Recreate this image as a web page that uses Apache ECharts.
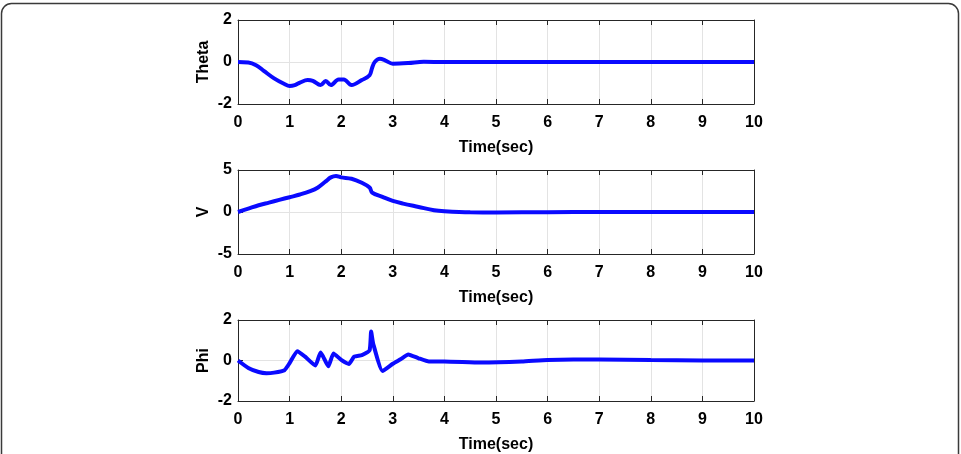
<!DOCTYPE html>
<html>
<head>
    <meta charset="utf-8">
    <script src="https://cdn.jsdelivr.net/npm/echarts@6/dist/echarts.min.js"></script>
</head>
<body style="margin:0; background:#fff">
    <div id="main" style="width:961px; height:454px"></div>
    <script type="text/javascript">
        // values
        var thetaTime = [0, 0.2, 0.35, 0.5, 0.7, 0.9, 1.0, 1.1, 1.2, 1.35, 1.45, 1.6, 1.7, 1.8, 1.95, 2.05, 2.2, 2.4, 2.55, 2.6, 2.65, 2.75, 2.85, 3.0, 3.3, 3.6, 4.0, 5, 6, 7, 8, 9, 10];
        var thetaVal = [0, -0.02, -0.15, -0.42, -0.78, -1.05, -1.14, -1.1, -0.98, -0.86, -0.9, -1.1, -0.9, -1.1, -0.83, -0.83, -1.1, -0.86, -0.63, -0.27, 0, 0.15, 0.08, -0.08, -0.05, 0.01, 0, 0, 0, 0, 0, 0, 0];

        var vTime = [0, 0.2, 0.4, 0.6, 0.8, 1.0, 1.2, 1.4, 1.55, 1.7, 1.8, 1.9, 2.0, 2.2, 2.4, 2.55, 2.6, 2.8, 3.0, 3.2, 3.5, 3.8, 4.0, 4.5, 5, 6, 7, 8, 9, 10];
        var vVal = [0, 0.4, 0.8, 1.12, 1.44, 1.76, 2.08, 2.48, 2.92, 3.64, 4.12, 4.28, 4.12, 3.96, 3.48, 2.92, 2.32, 1.8, 1.32, 1.0, 0.6, 0.2, 0.08, -0.04, -0.05, -0.03, 0, 0, 0, 0];

        var phiTime = [0, 0.2, 0.4, 0.55, 0.7, 0.9, 1.0, 1.15, 1.3, 1.5, 1.6, 1.65, 1.75, 1.85, 2.0, 2.15, 2.25, 2.4, 2.55, 2.58, 2.62, 2.8, 3.0, 3.15, 3.3, 3.5, 3.7, 4.0, 4.7, 5.5, 6.0, 7.0, 8.0, 9.0, 10];
        var phiVal = [0, -0.37, -0.57, -0.63, -0.6, -0.48, -0.13, 0.46, 0.19, -0.25, 0.4, 0.19, -0.29, 0.35, 0.03, -0.17, 0.19, 0.27, 0.5, 1.43, 0.83, -0.52, -0.16, 0.06, 0.3, 0.11, -0.05, -0.05, -0.1, -0.05, 0.03, 0.05, 0.02, 0, 0];

        var panelNames = ['Theta', 'V', 'Phi'];
        var panelRange = [[-2, 2, 2], [-5, 5, 5], [-2, 2, 2]];

        function pairs(t, v) {
            return t.map(function (x, i) { return [x, v[i]]; });
        }
        var panelData = [pairs(thetaTime, thetaVal), pairs(vTime, vVal), pairs(phiTime, phiVal)];

        var axisColor = '#262626';
        var font = 'Liberation Sans';
        var tops = [20, 170, 320];

        var grid = [], xAxis = [], yAxis = [], series = [];
        for (var i = 0; i < 3; i++) {
            grid.push({ left: 238, width: 516, top: tops[i], height: 84 });
            // bottom x axis with labels
            xAxis.push({
                gridIndex: i, type: 'value', min: 0, max: 10, interval: 1,
                name: 'Time(sec)', nameLocation: 'middle', nameGap: 36,
                nameTextStyle: { fontFamily: font, fontWeight: 'bold', fontSize: 16, color: '#000' },
                axisLine: { show: true, onZero: false, lineStyle: { color: axisColor, width: 1 } },
                axisTick: { inside: true, length: 5, lineStyle: { color: axisColor } },
                axisLabel: { margin: 11, fontFamily: font, fontWeight: 'bold', fontSize: 16, color: '#000' },
                splitLine: { show: true, lineStyle: { color: '#e3e3e3', width: 1 } }
            });
            // top x axis, box only
            xAxis.push({
                gridIndex: i, type: 'value', position: 'top', min: 0, max: 10, interval: 1,
                axisLine: { show: true, onZero: false, lineStyle: { color: axisColor, width: 1 } },
                axisTick: { inside: true, length: 5, lineStyle: { color: axisColor } },
                axisLabel: { show: false },
                splitLine: { show: false }
            });
            var r = panelRange[i];
            yAxis.push({
                gridIndex: i, type: 'value', min: r[0], max: r[1], interval: r[2],
                name: panelNames[i], nameLocation: 'middle', nameGap: 26, nameRotate: 90,
                nameMoveOverlap: false,
                nameTextStyle: { fontFamily: font, fontWeight: 'bold', fontSize: 16, color: '#000' },
                axisLine: { show: true, onZero: false, lineStyle: { color: axisColor, width: 1 } },
                axisTick: { show: true, inside: true, length: 5, lineStyle: { color: axisColor } },
                axisLabel: { margin: 6, fontFamily: font, fontWeight: 'bold', fontSize: 16, color: '#000' },
                splitLine: { show: true, lineStyle: { color: '#e3e3e3', width: 1 } }
            });
            yAxis.push({
                gridIndex: i, type: 'value', position: 'right', min: r[0], max: r[1], interval: r[2],
                axisLine: { show: true, onZero: false, lineStyle: { color: axisColor, width: 1 } },
                axisTick: { show: true, inside: true, length: 5, lineStyle: { color: axisColor } },
                axisLabel: { show: false },
                splitLine: { show: false }
            });
            series.push({
                type: 'line',
                xAxisIndex: i * 2,
                yAxisIndex: i * 2,
                data: panelData[i],
                showSymbol: false,
                smooth: i === 2 ? 0.15 : 0.35,
                lineStyle: { color: '#0a0aff', width: 4 },
                z: 3
            });
        }

        var myChart = echarts.init(document.getElementById('main'));
        var option = {
            animation: false,
            backgroundColor: '#fff',
            graphic: [{
                type: 'rect',
                shape: { x: 1.5, y: 3.5, width: 957, height: 480, r: 10 },
                style: { fill: 'none', stroke: '#3a3a3a', lineWidth: 1.5 },
                silent: true
            }],
            grid: grid,
            xAxis: xAxis,
            yAxis: yAxis,
            series: series
        };
        myChart.setOption(option);
    </script>
</body>
</html>
